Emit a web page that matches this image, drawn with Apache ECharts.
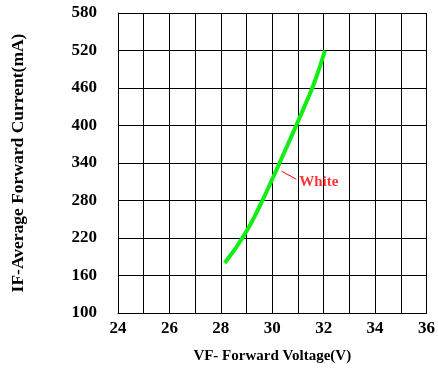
<!DOCTYPE html>
<html><head><meta charset="utf-8">
<script src="https://cdn.jsdelivr.net/npm/echarts@6/dist/echarts.min.js"></script>
<style>html,body{margin:0;padding:0;background:#fff}#c{width:438px;height:369px}</style>
</head><body><div id="c"></div>
<script>
var vfVolts = [28.15, 28.9, 29.5, 30.0, 30.5, 30.9, 31.3, 31.65, 32.05];
var ifCurrent = [180, 224, 270, 314, 360, 397, 435, 470, 520];
var xTicks = [24, 26, 28, 30, 32, 34, 36];
var yTicks = [100, 160, 220, 280, 340, 400, 460, 520, 580];
var leaderX = [30.36, 30.94];
var leaderY = [327, 314];
var labelText = 'White';
var labelPos = [31.05, 310];

var yBase = yTicks[0];
var font = 'Liberation Serif';
var chart = echarts.init(document.getElementById('c'));
chart.setOption({
  animation: false,
  grid: {left: 118, right: 11, top: 13, bottom: 55},
  xAxis: {
    type: 'value', min: xTicks[0], max: xTicks[xTicks.length-1], interval: 1,
    name: 'VF- Forward Voltage(V)', nameLocation: 'middle', nameGap: 36,
    nameTextStyle: {fontFamily: font, fontWeight: 'bold', fontSize: 15, color: '#000'},
    axisLine: {lineStyle: {color: '#000', width: 1}},
    axisTick: {show: false},
    axisLabel: {fontFamily: font, fontWeight: 'bold', fontSize: 17, color: '#000', margin: 7,
      formatter: function(v){ return xTicks.indexOf(v) >= 0 ? String(v) : ''; }},
    splitLine: {show: true, lineStyle: {color: '#000', width: 1}}
  },
  yAxis: {
    type: 'value', min: 0, max: yTicks[yTicks.length-1]-yBase, interval: yTicks[1]-yTicks[0],
    name: 'IF-Average Forward Current(mA)', nameLocation: 'middle', nameGap: 91,
    nameTextStyle: {fontFamily: font, fontWeight: 'bold', fontSize: 17.5, color: '#000'},
    axisLine: {show: true, lineStyle: {color: '#000', width: 1}},
    axisTick: {show: false},
    axisLabel: {fontFamily: font, fontWeight: 'bold', fontSize: 17, color: '#000', margin: 21,
      formatter: function(v){ return String(v + yBase); }},
    splitLine: {show: true, lineStyle: {color: '#000', width: 1}}
  },
  series: [
    {type: 'line', smooth: 0.5, symbol: 'none',
     lineStyle: {color: '#11ee11', width: 4},
     data: vfVolts.map(function(x,i){ return [x, ifCurrent[i]-yBase]; })},
    {type: 'line', symbol: 'none', lineStyle: {color: '#ff0000', width: 1},
     data: leaderX.map(function(x,i){ return [x, leaderY[i]-yBase]; })},
    {type: 'scatter', symbolSize: 0,
     label: {show: true, position: 'right', distance: 0, formatter: labelText,
       fontFamily: font, fontWeight: 'bold', fontSize: 15, color: '#ff0000'},
     data: [[labelPos[0], labelPos[1]-yBase]]}
  ]
});
</script></body></html>
